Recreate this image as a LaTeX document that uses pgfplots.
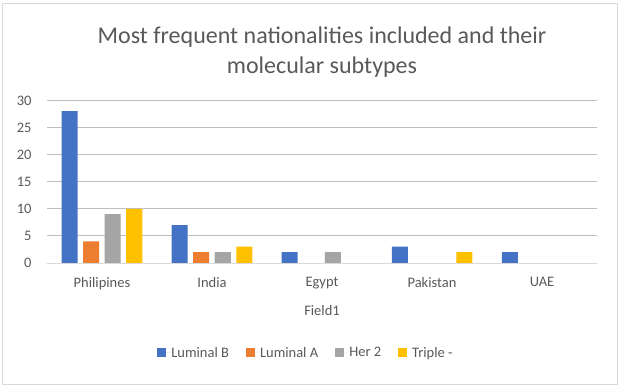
\documentclass[border=0pt]{standalone}
\usepackage{pgfplots}
\pgfplotsset{compat=1.18}
\usepackage{fontspec}
\setmainfont{Carlito}
\definecolor{lumB}{HTML}{4472C4}
\definecolor{lumA}{HTML}{ED7D31}
\definecolor{hertwo}{HTML}{A5A5A5}
\definecolor{triple}{HTML}{FFC000}
\definecolor{txt}{HTML}{595959}
\definecolor{grid}{HTML}{D9D9D9}
\begin{document}
\begin{tikzpicture}[x=1pt,y=1pt]
\path[use as bounding box] (-47,-124) rectangle (577,263);
\draw[grid, line width=0.8pt] (-45,-121) rectangle (570,260);
\begin{axis}[
  at={(0,0)}, anchor=south west,
  scale only axis, width=550pt, height=162.6pt,
  ybar=5.5pt, bar width=16pt,
  xmin=-0.5, xmax=4.5, ymin=0, ymax=30,
  xtick={0,1,2,3,4},
  xticklabels={Philipines,India,Egypt,Pakistan,UAE},
  ytick={0,5,10,15,20,25,30},
  xmajorgrids=false,
  ymajorgrids=true, grid style={grid, line width=0.8pt},
  axis x line*=bottom,
  x axis line style={draw=grid, line width=0.8pt, -},
  axis y line*=left,
  y axis line style={draw=none},
  major tick length=0pt, tick style={draw=none},
  tick label style={font=\fontsize{14.5}{16}\selectfont, text=txt},
  /pgf/number format/assume math mode=true,
  xticklabel style={yshift=-11pt},
  yticklabel style={xshift=-12pt},
  xlabel={Field1},
  xlabel style={at={(rel axis cs:0.5,0)}, anchor=center, yshift=-48pt, font=\fontsize{14.5}{16}\selectfont, text=txt},
  title={Most frequent nationalities included and their\\molecular subtypes},
  title style={at={(rel axis cs:0.5,1)}, anchor=center, yshift=42pt, align=center, font=\fontsize{24}{30}\selectfont, text=txt},
  legend columns=4,
  legend style={at={(rel axis cs:0.5,0)}, anchor=center, yshift=-90pt, xshift=-16pt, draw=none, fill=none,
     font=\fontsize{14.5}{16}\selectfont, text=txt,
     /tikz/every even column/.append style={column sep=15pt}},
  legend image code/.code={\fill[#1,draw=none] (0pt,-4.5pt) rectangle (9pt,4.5pt); \path (0pt,0pt) -- (12pt,0pt);},
]
\addplot[fill=lumB, draw=none] coordinates {(0,28) (1,7) (2,2) (3,3) (4,2)};
\addplot[fill=lumA, draw=none] coordinates {(0,4) (1,2)};
\addplot[fill=hertwo, draw=none] coordinates {(0,9) (1,2) (2,2)};
\addplot[fill=triple, draw=none] coordinates {(0,10) (1,3) (3,2)};
\legend{Luminal B, Luminal A, Her 2, Triple -}
\end{axis}
\end{tikzpicture}
\end{document}
